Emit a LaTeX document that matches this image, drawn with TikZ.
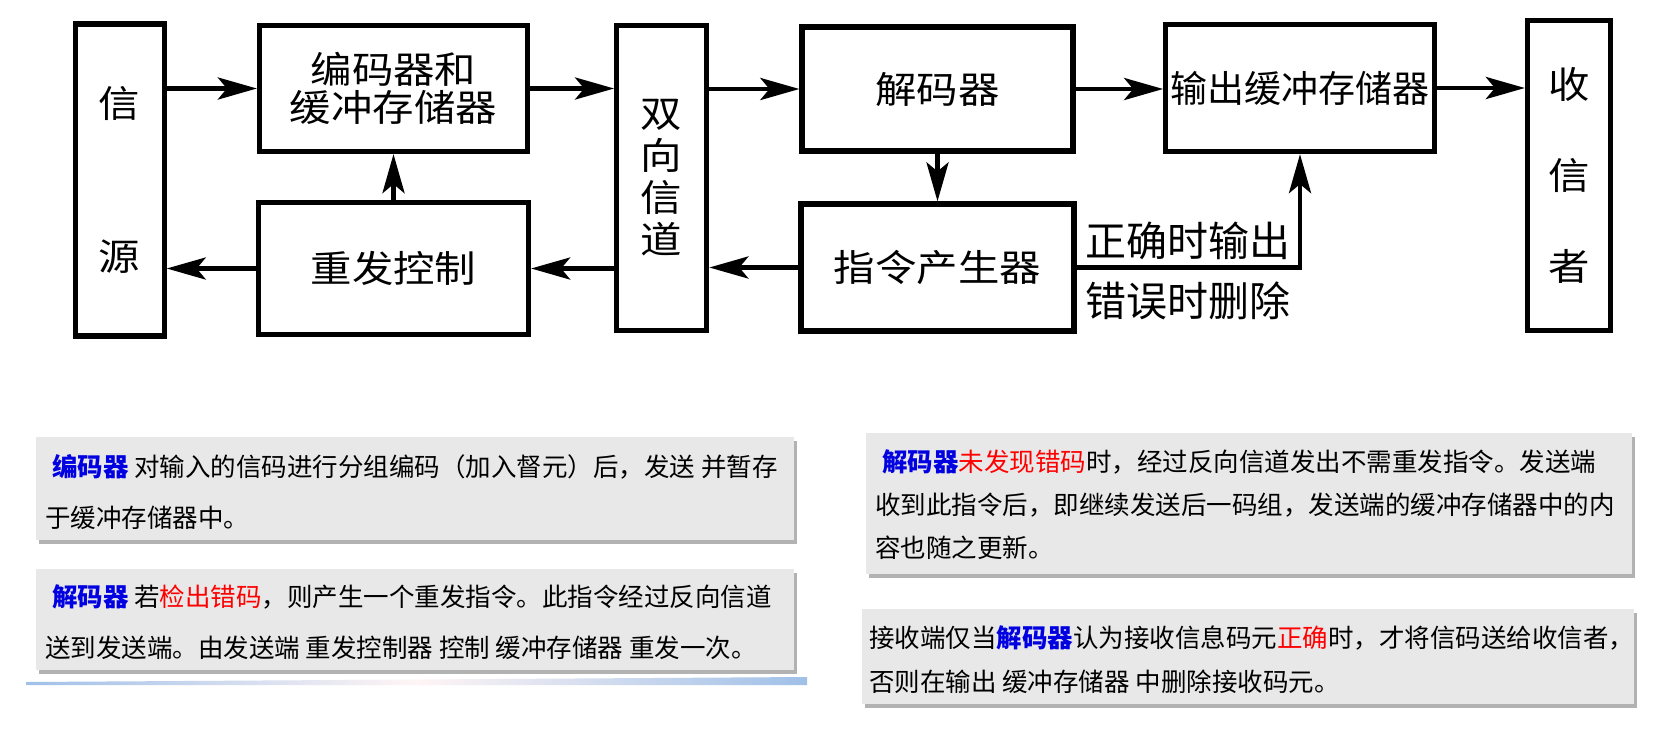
\documentclass[tikz,border=0pt]{standalone}
\usepackage{fontspec}
\setmainfont{Noto Sans CJK SC}
\newfontfamily\wideface[FakeStretch=1.12]{Noto Sans CJK SC}
\usepackage{tikz}
\usetikzlibrary{arrows.meta,shadows}
\usepackage{xcolor}

\definecolor{kwblue}{RGB}{0,0,225}
\definecolor{edgeblue}{RGB}{160,192,232}
\newcommand{\kw}[1]{\textcolor{kwblue}{\textbf{#1}}}
\newcommand{\hl}[1]{\textcolor{red}{#1}}

\tikzset{
  blk/.style={draw=black, line width=5.2pt, inner sep=0pt, align=center,
    font=\wideface\fontsize{37pt}{42pt}\selectfont},
  conn/.style={line width=4.6pt, -{Stealth[length=39pt,width=22pt,inset=9pt]}},
  lbl/.style={font=\fontsize{41pt}{41pt}\selectfont},
  notebox/.style={fill=gray!18, draw=none,
    drop shadow={shadow xshift=3pt, shadow yshift=-4pt, fill=black!50, opacity=.6}},
  notetxt/.style={inner sep=0pt, align=left}
}

\begin{document}
\begin{tikzpicture}[x=1pt, y=-1pt]
  \useasboundingbox (0,0) rectangle (1661,732);
  \fill[white] (0,0) rectangle (1661,732);
  % block diagram
  \node[blk, minimum width=89pt, minimum height=312pt,
    font=\wideface\fontsize{37pt}{153pt}\selectfont] (src) at (119.6,180) {信\\源};
  \node[blk, minimum width=268pt, minimum height=126pt,
    font=\wideface\fontsize{37pt}{38pt}\selectfont] (enc) at (393.5,88.5) {编码器和\\缓冲存储器};
  \node[blk, minimum width=270pt, minimum height=132pt] (resend) at (393.5,268.5) {重发控制};
  \node[blk, minimum width=90pt, minimum height=305pt] (chan) at (661.7,178) {双\\向\\信\\道};
  \node[blk, minimum width=271pt, minimum height=124pt] (dec) at (937.5,89) {解码器};
  \node[blk, minimum width=273pt, minimum height=127pt] (cmd) at (937.5,267.5) {指令产生器};
  \node[blk, minimum width=268.5pt, minimum height=127pt,
    font=\fontsize{37pt}{37pt}\selectfont] (outbuf) at (1300,88) {输出缓冲存储器};
  \node[blk, minimum width=83pt, minimum height=310pt,
    font=\wideface\fontsize{37pt}{91pt}\selectfont] (sink) at (1569,175.5) {收\\信\\者};
  % forward path
  \draw[conn] (src.east |- enc.west) -- (enc.west);
  \draw[conn] (enc.east) -- (chan.west |- enc.east);
  \draw[conn] (chan.east |- dec.west) -- (dec.west);
  \draw[conn] (dec.east) -- (outbuf.west |- dec.east);
  \draw[conn] (outbuf.east) -- (sink.west |- outbuf.east);
  % return path
  \draw[conn] (resend.west) -- (src.east |- resend.west);
  \draw[conn] (chan.west |- resend.east) -- (resend.east);
  \draw[conn] (cmd.west) -- (chan.east |- cmd.west);
  \draw[conn] (resend.north) -- (enc.south);
  \draw[conn] (dec.south) -- (cmd.north);
  \draw[conn] (cmd.east)
    -- node[lbl, above, inner sep=5pt] (okl) {正确时输出}
       node[lbl, below, inner sep=12pt] (errl) {错误时删除} (cmd.east -| outbuf.south)
    -- (outbuf.south);
  % notes
  \node[notebox, minimum width=758pt, minimum height=103pt] (nt1) at (415,488.5) {};
  \node[notetxt, font=\fontsize{25.5pt}{51pt}\selectfont, anchor=west] (tx1) at (45,492.5)
    {\hspace*{7pt}\kw{编码器} 对输入的信码进行分组编码（加入督元）后，发送 并暂存\\于缓冲存储器中。};
  \node[notebox, minimum width=758pt, minimum height=101pt] (nt2) at (415,619.5) {};
  \node[notetxt, font=\fontsize{25.5pt}{51pt}\selectfont, anchor=west] (tx2) at (45,622.5)
    {\hspace*{7pt}\kw{解码器} 若\hl{检出错码}，则产生一个重发指令。此指令经过反向信道\\送到发送端。由发送端 重发控制器 控制 缓冲存储器 重发一次。};
  \shade[left color=edgeblue, right color=edgeblue, middle color=white!96!red]
    (26,682) -- (807,677) -- (807,685) -- (26,685) -- cycle;
  \node[notebox, minimum width=766pt, minimum height=141pt] (nt3) at (1249,503.5) {};
  \node[notetxt, font=\fontsize{25.5pt}{43pt}\selectfont, anchor=west] (tx3) at (875,505)
    {\hspace*{7pt}\kw{解码器}\hl{未发现错码}时，经过反向信道发出不需重发指令。发送端\\收到此指令后，即继续发送后一码组，发送端的缓冲存储器中的内\\容也随之更新。};
  \node[notebox, minimum width=772pt, minimum height=95pt] (nt4) at (1248,656.5) {};
  \node[notetxt, font=\fontsize{25.5pt}{44pt}\selectfont, anchor=west] (tx4) at (869,660)
    {接收端仅当\kw{解码器}认为接收信息码元\hl{正确}时，才将信码送给收信者，\\否则在输出 缓冲存储器 中删除接收码元。};
\end{tikzpicture}
\end{document}
